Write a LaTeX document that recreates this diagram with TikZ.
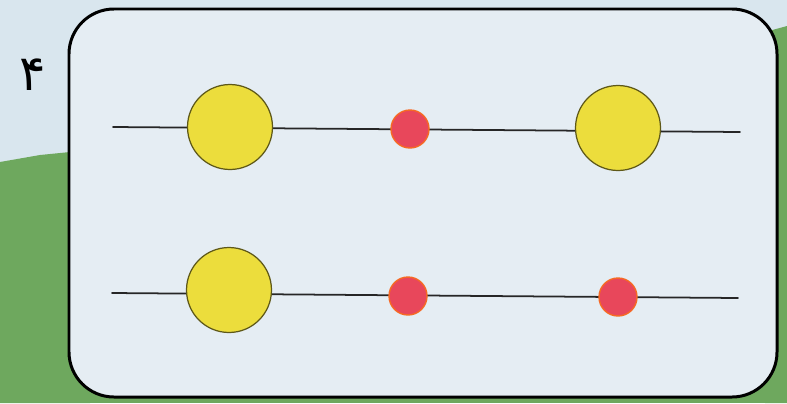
\documentclass[tikz,border=0pt]{standalone}
\usepackage{fontspec}
\newfontfamily\persianfont[Script=Arabic]{DejaVu Sans}
\TeXXeTstate=1
\definecolor{sky}{HTML}{D9E6EE}
\definecolor{card}{HTML}{E5EDF3}
\definecolor{grass}{HTML}{6EA85E}
\definecolor{beadyellow}{HTML}{ECDD3C}
\definecolor{beadred}{HTML}{E8475B}
\tikzset{
  bigbead/.style={circle, fill=beadyellow, draw=black!60!beadyellow, line width=0.7pt, minimum size=1.70cm, inner sep=0pt},
  smallbead/.style={circle, fill=beadred, draw=orange!60!beadred, line width=0.8pt, minimum size=0.76cm, inner sep=0pt},
  wire/.style={draw=black!85, line width=1pt}
}
\begin{document}
\begin{tikzpicture}[x=0.02cm, y=-0.02cm, line join=round, line cap=round]
\fill[sky] (0,0) rectangle (787,403);
\useasboundingbox (0,0) rectangle (787,403);
% grass behind the card
\fill[grass] (0,162) -- (40,155) -- (90,150) -- (90,403) -- (0,403) -- cycle;
\fill[grass] (0,385) rectangle (787,403);
\fill[grass] (765,32) -- (787,26) -- (787,403) -- (765,403) -- cycle;
% card
\draw[fill=card, line width=1.7pt, rounded corners=0.9cm] (69,9) rectangle (777,397);
\node[font=\persianfont\fontsize{28}{30}\selectfont] (num) at (33,75) {\beginR ۴\endR};
% end points of the two rods
\coordinate (a1) at (113,127);
\coordinate (b1) at (740,132);
\coordinate (a2) at (112,293);
\coordinate (b2) at (738,298);
\draw[wire] (a1) -- (b1);
\draw[wire] (a2) -- (b2);
% beads, top rod
\node[bigbead] (y1) at (230,127) {};
\node[smallbead] (r1) at (410,129) {};
\node[bigbead] (y2) at (618,128) {};
% beads, bottom rod
\node[bigbead] (y3) at (229,290) {};
\node[smallbead] (r2) at (408,296) {};
\node[smallbead] (r3) at (618,297) {};
\end{tikzpicture}
\end{document}
